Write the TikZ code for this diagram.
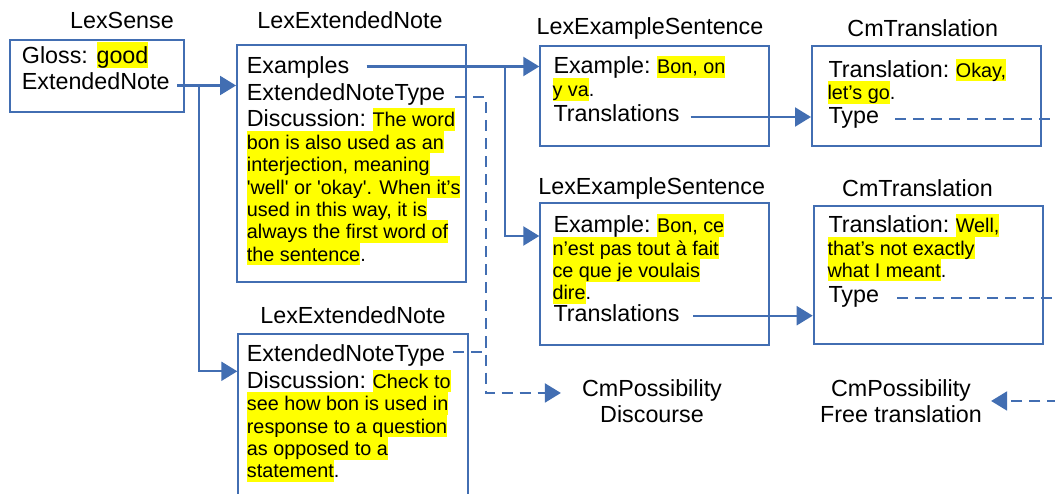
\documentclass[tikz,border=0pt]{standalone}
\usepackage{fontspec}
\setmainfont{Liberation Sans}
\usetikzlibrary{arrows.meta}
\definecolor{lc}{RGB}{66,110,178}
\definecolor{hl}{RGB}{255,255,0}
\newcommand\mfs{\fontsize{23.3pt}{26pt}\selectfont}
\newcommand\sfs{\fontsize{19.8pt}{22.4pt}\selectfont}
\newcommand\hls[1]{{\sfs\setlength{\fboxsep}{0pt}\colorbox{hl}{\rule[-4pt]{0pt}{22.4pt}#1}}}
\newcommand\hlm[1]{{\setlength{\fboxsep}{0pt}\colorbox{hl}{\rule[-5pt]{0pt}{26.5pt}#1}}}
\tikzset{
  box/.style={draw=lc, line width=2pt, anchor=north west, inner sep=0pt},
  txt/.style={anchor=base west, inner sep=0pt, font=\mfs},
  ttl/.style={anchor=base, inner sep=0pt, font=\mfs},
  conn/.style={draw=lc, line width=2.2pt},
  arr/.style={conn, -{Triangle[length=16pt,width=19pt]}},
  dconn/.style={draw=lc, line width=2pt, dash pattern=on 11pt off 7pt},
  darr/.style={dconn, -{Triangle[length=16pt,width=19pt]}}
}
\begin{document}
\begin{tikzpicture}[x=1pt,y=-1pt]
\useasboundingbox (0,0) rectangle (1055,494);
\fill[white] (0,0) rectangle (1055,494);

% ---------- LexSense ----------
\node[ttl] (lsT) at (122,28.3) {LexSense};
\node[box, minimum width=174pt, minimum height=72pt] (ls) at (9,39.5) {};
\node[txt] (lsG) at (21.7,63.3) {Gloss: \hlm{good}};
\node[txt] (lsE) at (21.7,90) {ExtendedNote};

% ---------- LexExtendedNote 1 ----------
\node[ttl] (en1T) at (350,28.3) {LexExtendedNote};
\node[box, minimum width=229pt, minimum height=237pt] (en1) at (236,44) {};
\node[txt] (en1a) at (246.7,74) {Examples};
\node[txt] (en1b) at (246.7,100.7) {ExtendedNoteType};
\node[txt] (en1c) at (246.7,126.7) {Discussion:~\hls{The word}};
\node[txt] (en1d) at (246.7,149.3) {\hls{bon is also used as an}};
\node[txt] (en1e) at (246.7,171.7) {\hls{interjection, meaning}};
\node[txt] (en1f) at (246.7,194.1) {\hls{\textquotesingle well\textquotesingle{} or \textquotesingle okay\textquotesingle. When it’s}};
\node[txt] (en1g) at (246.7,216.5) {\hls{used in this way, it is}};
\node[txt] (en1h) at (246.7,238.9) {\hls{always the first word of}};
\node[txt] (en1i) at (246.7,261.3) {\hls{the sentence}{\sfs.}};

% ---------- LexExtendedNote 2 ----------
\node[ttl] (en2T) at (353,323.3) {LexExtendedNote};
\node[box, minimum width=229.4pt, minimum height=165pt] (en2) at (237.3,333.3) {};
\node[txt] (en2a) at (246.7,361.7) {ExtendedNoteType};
\node[txt] (en2b) at (246.7,388.3) {Discussion:~\hls{Check to}};
\node[txt] (en2c) at (246.7,410.7) {\hls{see how bon is used in}};
\node[txt] (en2d) at (246.7,433.1) {\hls{response to a question}};
\node[txt] (en2e) at (246.7,455.5) {\hls{as opposed to a}};
\node[txt] (en2f) at (246.7,477.9) {\hls{statement}{\sfs.}};

% ---------- LexExampleSentence 1 ----------
\node[ttl] (le1T) at (650,35) {LexExampleSentence};
\node[box, minimum width=229pt, minimum height=100pt] (le1) at (539.3,45) {};
\node[txt] (le1a) at (553.3,74) {Example:~\hls{Bon, on}};
\node[txt] (le1b) at (552.3,96.4) {\hls{y va}{\sfs.}};
\node[txt] (le1c) at (553.3,121.7) {Translations};

% ---------- LexExampleSentence 2 ----------
\node[ttl] (le2T) at (651.7,195) {LexExampleSentence};
\node[box, minimum width=229pt, minimum height=142.3pt] (le2) at (539.3,201.7) {};
\node[txt] (le2a) at (553.3,232.7) {Example:~\hls{Bon, ce}};
\node[txt] (le2b) at (552.3,255.1) {\hls{n’est pas tout à fait}};
\node[txt] (le2c) at (552.3,277.5) {\hls{ce que je voulais}};
\node[txt] (le2d) at (552.3,299.9) {\hls{dire}{\sfs.}};
\node[txt] (le2e) at (553.3,322) {Translations};

% ---------- CmTranslation 1 ----------
\node[ttl] (ct1T) at (922.8,36.7) {CmTranslation};
\node[box, minimum width=229pt, minimum height=100.5pt] (ct1) at (811,45) {};
\node[txt] (ct1a) at (828.3,77.3) {Translation:~\hls{Okay,}};
\node[txt] (ct1b) at (827.3,99.7) {\hls{let’s go}{\sfs.}};
\node[txt] (ct1c) at (828.3,123.3) {Type};

% ---------- CmTranslation 2 ----------
\node[ttl] (ct2T) at (917.5,196.7) {CmTranslation};
\node[box, minimum width=229pt, minimum height=137.7pt] (ct2) at (812.7,205) {};
\node[txt] (ct2a) at (828.3,232.7) {Translation:~\hls{Well,}};
\node[txt] (ct2b) at (827.3,255.1) {\hls{that’s not exactly}};
\node[txt] (ct2c) at (827.3,277.5) {\hls{what I meant}{\sfs.}};
\node[txt] (ct2d) at (828.3,302.5) {Type};

% ---------- CmPossibility labels ----------
\node[ttl] (cpd1) at (652,396) {CmPossibility};
\node[ttl] (cpd2) at (652,422) {Discourse};
\node[ttl] (cpf1) at (901,396) {CmPossibility};
\node[ttl] (cpf2) at (901,422) {Free translation};

% ---------- connector points ----------
\coordinate (seo) at (177,85.5);
\coordinate (sbx) at (199,0);
\coordinate (en2in) at ([yshift=-38pt]en2.north west);
\coordinate (exo) at (366.7,66.5);
\coordinate (ebx) at (505,0);
\coordinate (le2in) at ([yshift=-34.3pt]le2.north west);
\coordinate (t1o) at (455,97.5);
\coordinate (t2o) at (453,352);
\coordinate (jx) at (486,0);
\coordinate (cpdin) at ([xshift=-21pt,yshift=-3pt]cpd1.west);
\coordinate (tr1) at (690.7,117);
\coordinate (tr2) at (693.3,315.7);
\coordinate (ty1) at (895,119.5);
\coordinate (ty2) at (897,298.5);
\coordinate (edge) at (1058,0);
\coordinate (cpfin) at ([xshift=20pt,yshift=-11pt]cpf1.east);

% ---------- connectors ----------
\draw[arr] (seo) -- (seo -| en1.west);
\draw[arr] (seo -| sbx) |- (en2in);
\draw[arr] (exo) -- (exo -| le1.west);
\draw[arr] (exo -| ebx) |- (le2in);
\draw[darr] (t1o) -| (jx |- cpdin) -- (cpdin);
\draw[dconn] (t2o) -- (t2o -| jx);
\draw[arr] (tr1) -- (tr1 -| ct1.west);
\draw[arr] (tr2) -- (tr2 -| ct2.west);
\draw[dconn] (ty1) -- (ty1 -| edge);
\draw[dconn] (ty2) -- (ty2 -| edge);
\draw[darr] (cpfin -| edge) -- (cpfin);
\end{tikzpicture}
\end{document}
